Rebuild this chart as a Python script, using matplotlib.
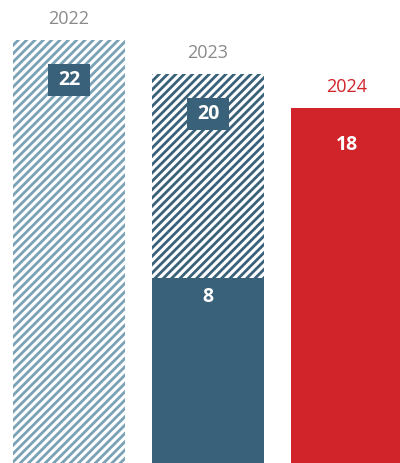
import matplotlib
matplotlib.use("Agg")
import matplotlib.pyplot as plt
from matplotlib.patches import Rectangle

# values per year
years = ["2022", "2023", "2024"]
totals = [22, 20, 18]
solid_part = [0, 8, 18]          # filled (non-hatched) share of each bar
year_colors = ["#8a8a8a", "#8a8a8a", "#d1232a"]

plt.rcParams["font.family"] = ["Open Sans", "DejaVu Sans"]
plt.rcParams["hatch.linewidth"] = 2.0

light_blue = "#7aa2b7"
dark_blue = "#3a617a"
red = "#d1232a"

fig = plt.figure(figsize=(4.0, 4.63), dpi=100)
ax = fig.add_axes([0, 0, 1, 1])

base = -2.88
xs = range(len(years))
width = 0.806

# 2022: fully hatched light blue
ax.bar(0, totals[0] - base, bottom=base, width=width, color="white",
       edgecolor=light_blue, hatch="////", linewidth=0)
# 2023: solid lower part + dark hatched upper part
ax.bar(1, solid_part[1] - base, bottom=base, width=width, color=dark_blue, linewidth=0)
ax.bar(1, totals[1] - solid_part[1], bottom=solid_part[1], width=width, color="white",
       edgecolor=dark_blue, hatch="////", linewidth=0)
# 2024: solid red
ax.bar(2, totals[2] - base, bottom=base, width=width, color=red, linewidth=0)

# year labels above bars
for x, y, lab, c in zip(xs, totals, years, year_colors):
    ax.text(x, y + 1.25, lab, ha="center", va="center", fontsize=13, color=c)

# boxed value labels on hatched bars
box_w, box_h = 0.30, 1.9
for x, y in [(0, totals[0]), (1, totals[1])]:
    cy = y - 2.35
    ax.add_patch(Rectangle((x - box_w / 2, cy - box_h / 2), box_w, box_h,
                           facecolor=dark_blue, edgecolor="none", zorder=3))
    ax.text(x, cy, str(y), ha="center", va="center", fontsize=14,
            fontweight="bold", color="white", zorder=4)

ax.text(2, totals[2] - 2.2, str(totals[2]), ha="center", va="center",
        fontsize=14, fontweight="bold", color="white")
ax.text(1, solid_part[1] - 1.1, str(solid_part[1]), ha="center", va="center",
        fontsize=14, fontweight="bold", color="white")

ax.set_xlim(-0.496, 2.381)
ax.set_ylim(base, 24.35)
ax.axis("off")

fig.savefig("out.png", dpi=100)
